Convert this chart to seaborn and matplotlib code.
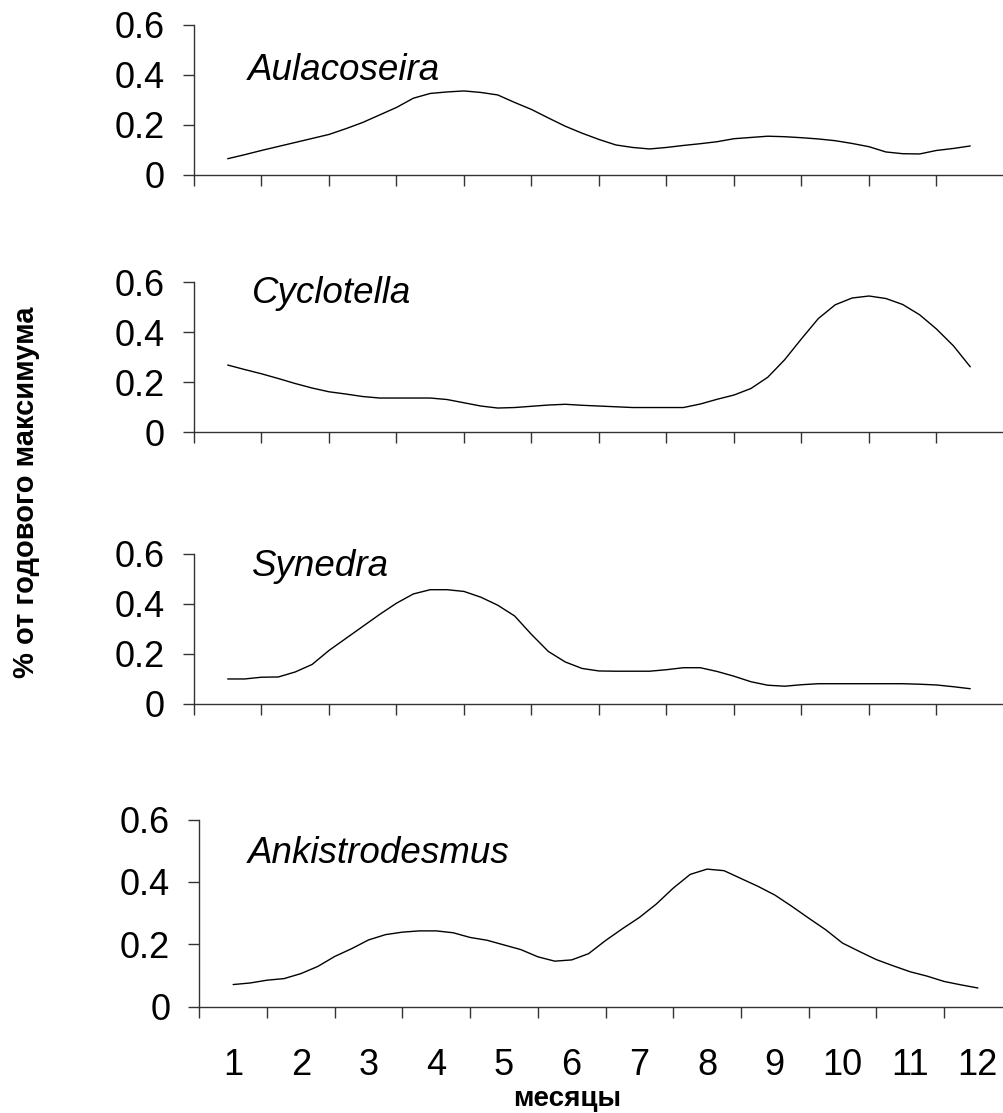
#%%
import pandas as pd
import matplotlib
matplotlib.use("Agg")
import matplotlib.pyplot as plt
import seaborn as sns

# Шкала времени: четверти месяца от 1 до 12
months = [
    1.0, 1.25, 1.5, 1.75, 2.0, 2.25, 2.5, 2.75, 3.0, 3.25, 3.5, 3.75,
    4.0, 4.25, 4.5, 4.75, 5.0, 5.25, 5.5, 5.75, 6.0, 6.25, 6.5, 6.75,
    7.0, 7.25, 7.5, 7.75, 8.0, 8.25, 8.5, 8.75, 9.0, 9.25, 9.5, 9.75,
    10.0, 10.25, 10.5, 10.75, 11.0, 11.25, 11.5, 11.75, 12.0,
]
month_labels = ["1", "2", "3", "4", "5", "6", "7", "8", "9", "10", "11", "12"]

aulacoseira = [
    0.065, 0.081, 0.098, 0.114, 0.130, 0.146, 0.162, 0.185, 0.210, 0.240,
    0.270, 0.307, 0.326, 0.332, 0.336, 0.330, 0.320, 0.290, 0.262, 0.228,
    0.195, 0.167, 0.142, 0.120, 0.110, 0.104, 0.110, 0.118, 0.125, 0.133,
    0.145, 0.150, 0.155, 0.153, 0.149, 0.144, 0.137, 0.126, 0.113, 0.092,
    0.085, 0.084, 0.098, 0.106, 0.116,
]
cyclotella = [
    0.269, 0.251, 0.234, 0.215, 0.195, 0.177, 0.162, 0.153, 0.143, 0.137,
    0.137, 0.137, 0.137, 0.131, 0.118, 0.105, 0.097, 0.099, 0.104, 0.109,
    0.112, 0.108, 0.105, 0.102, 0.099, 0.099, 0.099, 0.099, 0.113, 0.132,
    0.149, 0.175, 0.220, 0.290, 0.374, 0.455, 0.510, 0.537, 0.545, 0.535,
    0.511, 0.470, 0.413, 0.346, 0.262,
]
synedra = [
    0.100, 0.100, 0.107, 0.108, 0.128, 0.158, 0.214, 0.262, 0.310, 0.358,
    0.403, 0.440, 0.457, 0.457, 0.450, 0.427, 0.395, 0.352, 0.278, 0.210,
    0.168, 0.142, 0.132, 0.131, 0.131, 0.131, 0.137, 0.145, 0.145, 0.130,
    0.111, 0.089, 0.075, 0.071, 0.077, 0.081, 0.081, 0.081, 0.081, 0.081,
    0.081, 0.079, 0.076, 0.069, 0.061,
]
ankistrodesmus = [
    0.071, 0.076, 0.085, 0.090, 0.106, 0.129, 0.161, 0.186, 0.214, 0.231,
    0.239, 0.243, 0.243, 0.237, 0.222, 0.213, 0.198, 0.183, 0.160, 0.146,
    0.150, 0.170, 0.212, 0.250, 0.286, 0.329, 0.380, 0.424, 0.441, 0.436,
    0.411, 0.386, 0.358, 0.322, 0.284, 0.247, 0.204, 0.177, 0.151, 0.131,
    0.112, 0.098, 0.081, 0.070, 0.060,
]

species = ["Aulacoseira", "Cyclotella", "Synedra", "Ankistrodesmus"]
series = [aulacoseira, cyclotella, synedra, ankistrodesmus]

# Положение осей (в долях фигуры) и подписей видов (в долях осей)
positions = [
    [0.1932, 0.8428, 0.8068, 0.1348],
    [0.1932, 0.6116, 0.8068, 0.1348],
    [0.1932, 0.3675, 0.8068, 0.1348],
    [0.1985, 0.0955, 0.8092, 0.1682],
]
label_xy = [(0.067, 0.633), (0.072, 0.86), (0.072, 0.853), (0.060, 0.767)]

sns.set_theme(style="white")
plt.rcParams["font.family"] = ["Liberation Sans", "DejaVu Sans"]
plt.rcParams["text.color"] = "black"
plt.rcParams["xtick.color"] = "black"
plt.rcParams["ytick.color"] = "black"

fig = plt.figure(figsize=(10.04, 11.13), dpi=100)

for i, (name, values) in enumerate(zip(species, series)):
    ax = fig.add_axes(positions[i])
    df = pd.DataFrame({"month": months, "value": values})

    # Кривая сезонной динамики
    sns.lineplot(data=df, x="month", y="value", color="black",
                 linewidth=1.0, ax=ax)

    ax.set_xlim(0.5, 12.5)
    ax.set_ylim(0, 0.6)
    ax.set_xlabel("")
    ax.set_ylabel("")

    # Оси в стиле Excel: только левая и нижняя
    sns.despine(ax=ax)
    for side in ["left", "bottom"]:
        ax.spines[side].set_color("#333333")
        ax.spines[side].set_linewidth(1.0)

    ax.set_yticks([0, 0.2, 0.4, 0.6])
    ax.set_yticklabels(["0", "0.2", "0.4", "0.6"])
    ax.tick_params(axis="y", direction="out", length=8, width=1.0,
                   color="#333333", labelcolor="black", labelsize=26,
                   pad=13, left=True)

    # Засечки между месяцами, подписи по центру месяца
    ax.set_xticks([m + 0.5 for m in range(0, 13)])
    ax.set_xticklabels([])
    ax.tick_params(axis="x", which="major", direction="out", length=8,
                   width=1.0, color="#333333", bottom=True)
    if i == 3:
        ax.set_xticks(range(1, 13), minor=True)
        ax.set_xticklabels(month_labels, minor=True)
        ax.tick_params(axis="x", which="minor", length=0, labelsize=26,
                       labelcolor="black", pad=30)

    ax.text(label_xy[i][0], label_xy[i][1], name, transform=ax.transAxes,
            fontsize=26.5, fontstyle="italic", ha="left", va="baseline",
            color="black")

# Общие подписи осей
fig.text(0.0259, 0.558, "% от годового максимума", rotation=90,
         fontsize=21, fontweight="bold", ha="center", va="center",
         color="black")
fig.text(0.565, 0.0065, "месяцы", fontsize=20, fontweight="bold",
         ha="center", va="baseline", color="black")

fig.savefig("out.png", dpi=100)
